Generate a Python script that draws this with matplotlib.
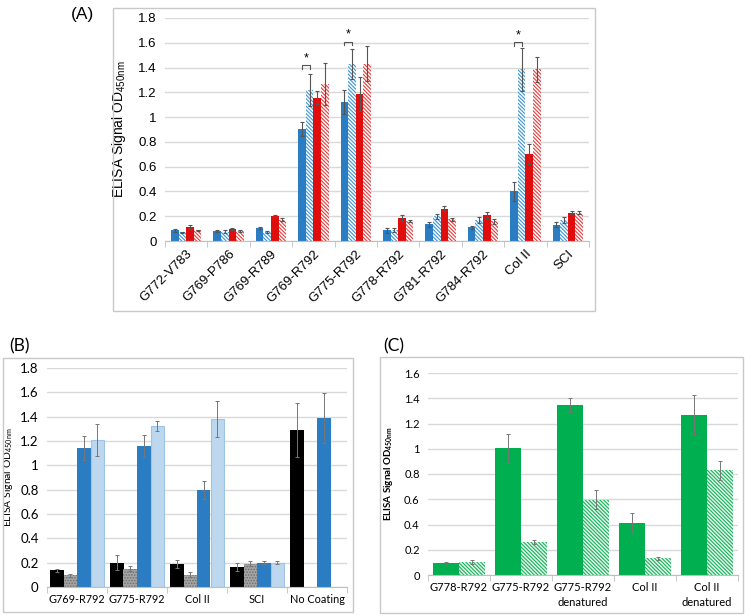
import numpy as np
import matplotlib
matplotlib.use("Agg")
import matplotlib.pyplot as plt
from matplotlib.patches import Rectangle

# ---------------- data ----------------
a_categories = ["G772-V783", "G769-P786", "G769-R789", "G769-R792", "G775-R792",
                "G778-R792", "G781-R792", "G784-R792", "Col II", "SCI"]
a_blue = [0.086, 0.080, 0.105, 0.907, 1.120, 0.085, 0.135, 0.110, 0.400, 0.130]
a_blue_hatch = [0.070, 0.075, 0.070, 1.220, 1.430, 0.090, 0.200, 0.170, 1.385, 0.170]
a_red = [0.115, 0.100, 0.205, 1.157, 1.185, 0.185, 0.260, 0.210, 0.700, 0.230]
a_red_hatch = [0.087, 0.080, 0.170, 1.265, 1.430, 0.160, 0.175, 0.160, 1.385, 0.230]
a_blue_err = [0.010, 0.005, 0.008, 0.057, 0.095, 0.020, 0.020, 0.015, 0.075, 0.020]
a_blue_hatch_err = [0.005, 0.010, 0.008, 0.130, 0.120, 0.015, 0.020, 0.025, 0.175, 0.025]
a_red_err = [0.015, 0.008, 0.008, 0.050, 0.135, 0.022, 0.020, 0.025, 0.080, 0.012]
a_red_hatch_err = [0.005, 0.005, 0.012, 0.170, 0.140, 0.010, 0.010, 0.020, 0.100, 0.012]
a_sig_categories = ["G769-R792", "G775-R792", "Col II"]
a_sig_levels = [1.42, 1.61, 1.605]

b_categories = ["G769-R792", "G775-R792", "Col II", "SCI", "No Coating"]
b_black = [0.137, 0.200, 0.190, 0.165, 1.290]
b_gray = [0.096, 0.150, 0.100, 0.190, np.nan]
b_blue = [1.140, 1.160, 0.795, 0.200, 1.390]
b_light = [1.210, 1.325, 1.380, 0.200, np.nan]
b_black_err = [0.015, 0.060, 0.035, 0.030, 0.220]
b_gray_err = [0.010, 0.020, 0.020, 0.020, np.nan]
b_blue_err = [0.100, 0.090, 0.075, 0.010, 0.205]
b_light_err = [0.130, 0.040, 0.145, 0.010, np.nan]

c_categories = ["G778-R792", "G775-R792", "G775-R792\ndenatured", "Col II", "Col II\ndenatured"]
c_solid = [0.093, 1.005, 1.345, 0.410, 1.268]
c_hatch = [0.106, 0.262, 0.595, 0.132, 0.830]
c_solid_err = [0.010, 0.115, 0.055, 0.080, 0.155]
c_hatch_err = [0.015, 0.015, 0.075, 0.012, 0.075]

# ---------------- layout helpers ----------------
W, H = 745, 615
plt.rcParams['hatch.linewidth'] = 0.8
plt.rcParams['mathtext.default'] = 'regular'
fig = plt.figure(figsize=(W / 100, H / 100), dpi=100)


def rect(l, t, r, b):
    return [l / W, 1 - b / H, (r - l) / W, (b - t) / H]


def box(l, t, r, b):
    fig.add_artist(Rectangle((l / W, 1 - b / H), (r - l) / W, (b - t) / H,
                             transform=fig.transFigure, fill=False,
                             edgecolor="#c8c8c8", linewidth=1.0))


def style_axes(ax, n, ymax, ystep, font, fs):
    ax.set_xlim(-0.5, n - 0.5)
    ax.set_ylim(0, ymax)
    ax.set_yticks(np.arange(0, ymax + 1e-9, ystep))
    ax.yaxis.grid(True, color="#d9d9d9", linewidth=1.0)
    ax.set_axisbelow(True)
    for s in ["top", "right", "left"]:
        ax.spines[s].set_visible(False)
    ax.spines["bottom"].set_color("#bfbfbf")
    ax.tick_params(axis="y", length=0, pad=6, labelsize=fs)
    ax.tick_params(axis="x", which="major", length=0, labelsize=fs)
    ax.set_xticks(np.arange(-0.5, n), minor=True)
    ax.tick_params(axis="x", which="minor", length=4, color="#bfbfbf")
    ax.yaxis.set_major_formatter(matplotlib.ticker.FuncFormatter(
        lambda v, p: ("%g" % round(v, 2))))
    for lab in ax.get_yticklabels():
        lab.set_fontfamily(font)


HATCH = "\\" * 9
ekw = dict(fmt="none", ecolor="#555555", elinewidth=0.8, capsize=1.5, capthick=0.8)

# ---------------- Panel A ----------------
box(113, 8, 595, 311)
axA = fig.add_axes(rect(165, 18, 589, 241))
style_axes(axA, len(a_categories), 1.8, 0.2, "Liberation Sans", 9.5)
x = np.arange(len(a_categories))
w = 0.18
blue = "#2a7dc2"
red = "#e00d0d"
seriesA = [
    (a_blue, a_blue_err, dict(color=blue)),
    (a_blue_hatch, a_blue_hatch_err, dict(facecolor="white", edgecolor="#3b95d8", hatch=HATCH, linewidth=0)),
    (a_red, a_red_err, dict(color=red)),
    (a_red_hatch, a_red_hatch_err, dict(facecolor="white", edgecolor="#ea3a3a", hatch=HATCH, linewidth=0)),
]
for i, (vals, errs, kw) in enumerate(seriesA):
    xs = x + (i - 1.5) * w
    axA.bar(xs, vals, w, **kw)
    axA.errorbar(xs, vals, yerr=errs, **ekw)
axA.set_xticks(x)
axA.set_xticklabels(a_categories, rotation=45, ha="right", rotation_mode="anchor",
                    fontfamily="Liberation Sans", fontsize=9.5)
axA.tick_params(axis="x", which="major", pad=5)
axA.set_ylabel("ELISA Signal OD$_{450nm}$", fontfamily="Liberation Sans", fontsize=10)
axA.yaxis.set_label_coords(-0.087, 0.5)
for cat, lvl in zip(a_sig_categories, a_sig_levels):
    i = a_categories.index(cat)
    x0, x1 = i - 1.5 * w, i - 0.5 * w
    axA.plot([x0, x0, x1, x1], [lvl - 0.03, lvl, lvl, lvl - 0.03], color="#555555", lw=0.8)
    axA.text((x0 + x1) / 2, lvl + 0.005, "*", ha="center", va="bottom", fontsize=9,
             fontfamily="Liberation Sans")
fig.text(82 / W, 1 - 14 / H, "(A)", ha="center", va="center", fontsize=12.5,
         fontfamily="Liberation Sans")

# ---------------- Panel B ----------------
box(3, 358, 353, 612)
axB = fig.add_axes(rect(47, 368, 347, 587))
style_axes(axB, len(b_categories), 1.8, 0.2, "Lato", 9.5)
xb = np.arange(len(b_categories))
wb = 0.225
seriesB = [
    (b_black, b_black_err, dict(color="black")),
    (b_gray, b_gray_err, dict(facecolor="#a6a6a6", edgecolor="#6e6e6e", hatch="......", linewidth=0)),
    (b_blue, b_blue_err, dict(color="#2a7dc2")),
    (b_light, b_light_err, dict(facecolor="#bdd7ee", edgecolor="#9dc3e6", linewidth=0.8)),
]
for i, (vals, errs, kw) in enumerate(seriesB):
    vals = np.asarray(vals, float)
    errs = np.asarray(errs, float)
    m = np.isfinite(vals)
    xs = xb[m] + (i - 1.5) * wb
    axB.bar(xs, vals[m], wb, **kw)
    axB.errorbar(xs, vals[m], yerr=errs[m], fmt="none", ecolor="#777777",
                 elinewidth=0.7, capsize=1.5, capthick=0.7)
axB.set_xticks(xb)
axB.set_xticklabels(b_categories, fontfamily="Lato", fontsize=7.8)
axB.tick_params(axis="x", which="major", pad=5)
axB.set_ylabel("ELISA Signal OD$_{450nm}$", fontfamily="Lato", fontsize=7.5)
axB.yaxis.set_label_coords(-0.107, 0.5)
fig.text(20 / W, 1 - 346 / H, "(B)", ha="center", va="center", fontsize=12.5,
         fontfamily="Lato")

# ---------------- Panel C ----------------
box(380, 357, 743, 613)
axC = fig.add_axes(rect(428, 373, 738, 575))
style_axes(axC, len(c_categories), 1.6, 0.2, "Lato", 8)
xc = np.arange(len(c_categories))
wc = 0.42
green = "#00b050"
seriesC = [
    (c_solid, c_solid_err, dict(color=green)),
    (c_hatch, c_hatch_err, dict(facecolor="#e6f7ec", edgecolor="#14b35a", hatch=HATCH, linewidth=0)),
]
for i, (vals, errs, kw) in enumerate(seriesC):
    xs = xc + (i - 0.5) * wc
    axC.bar(xs, vals, wc, **kw)
    axC.errorbar(xs, vals, yerr=errs, fmt="none", ecolor="#777777",
                 elinewidth=0.7, capsize=1.5, capthick=0.7)
axC.set_xticks(xc)
axC.set_xticklabels(c_categories, fontfamily="Lato", fontsize=8, linespacing=1.4)
axC.tick_params(axis="x", which="major", pad=5)
axC.set_ylabel("ELISA Signal OD$_{450nm}$", fontfamily="Lato", fontsize=7, fontweight="bold")
axC.yaxis.set_label_coords(-0.106, 0.5)
fig.text(394 / W, 1 - 346 / H, "(C)", ha="center", va="center", fontsize=12.5,
         fontfamily="Lato")

fig.savefig("out.png", dpi=100)
